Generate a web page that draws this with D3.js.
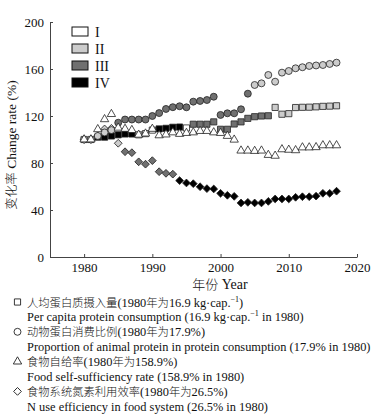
<!DOCTYPE html>
<html lang="zh">
<head>
<meta charset="UTF-8">
<title>变化率 Change rate</title>
<script src="https://d3js.org/d3.v7.min.js"></script>
<style>
    body { margin: 0; background: #fff; }
    svg text { font-family: "Liberation Serif", serif; fill: #111; }
    .axis path, .axis line { stroke: #444; }
</style>
</head>
<body>
<svg width="385" height="420"></svg>
<script>
    const years = [1980, 1981, 1982, 1983, 1984, 1985, 1986, 1987, 1988, 1989,
                   1990, 1991, 1992, 1993, 1994, 1995, 1996, 1997, 1998, 1999,
                   2000, 2001, 2002, 2003, 2004, 2005, 2006, 2007, 2008, 2009,
                   2010, 2011, 2012, 2013, 2014, 2015, 2016, 2017];

    // per capita protein consumption (squares)
    const proteinIntake = [100, 100, 102, 102, 103, 104, 104.7, 104.7, 104, 105,
                           108, 109, 109.5, 110.4, 110.6, 109.8, 113, 113, 113, 115,
                           108.7, 108.7, 113.2, 115, 118, 119.4, 120, 120.2, 127.3, 121.5,
                           122, 127.2, 127.4, 127.5, 127.8, 128.2, 128.4, 128.7];
    const proteinIntakePeriod = [1, 1, 4, 4, 4, 4, 4, 4, 1, 1,
                                 1, 4, 4, 4, 4, 1, 3, 3, 3, 3,
                                 3, 3, 3, 3, 3, 3, 3, 3, 2, 2,
                                 2, 2, 2, 2, 2, 2, 2, 2];

    // proportion of animal protein (circles)
    const animalShare = [100, 100, 103, 106, 108, 114.3, 117, 117, 117, 117,
                         120, 122.5, 126, 127.5, 128.3, 127.4, 132.2, 132.8, 133.6, 136.4,
                         120.9, 122.3, 122.3, 125.7, 139, 146.4, 147.8, 154.9, 149.2, 156.9,
                         158.3, 160.6, 161.5, 162.6, 163, 163.4, 164.3, 165.4];
    const animalSharePeriod = [1, 1, 2, 2, 2, 3, 3, 3, 3, 3,
                               3, 3, 3, 3, 3, 3, 3, 3, 3, 3,
                               3, 3, 3, 3, 3, 2, 2, 2, 2, 2,
                               2, 2, 2, 2, 2, 2, 2, 2];

    // food self-sufficiency rate (triangles)
    const selfSufficiency = [100, 100, 108.7, 117.2, 121.6, 110, 109, 108, 104, 105,
                             109, 103.5, 104.2, 106, 104.7, 105.5, 106, 107.2, 107.2, 106,
                             105.5, 103, 99.8, 90.5, 90.5, 90.2, 90.5, 86.8, 86.1, 91.6,
                             91.2, 90.8, 93.2, 93.2, 93.4, 95, 95, 95];
    const selfSufficiencyPeriod = years.map(() => 1);

    // N use efficiency in food system (diamonds)
    const nEfficiency = [100, 100, 103, 109, 109.5, 96.8, 89.6, 88.8, 81, 79,
                         82, 72.6, 71.2, 70.5, 65, 63, 62.4, 59.8, 58.2, 57.9,
                         54.2, 52.5, 51.6, 46, 46.5, 46, 46, 47.3, 49.4, 49.4,
                         49.4, 50.8, 51.3, 51.3, 51.8, 54.2, 54.2, 56];
    const nEfficiencyPeriod = [2, 2, 2, 2, 2, 2, 3, 3, 3, 3,
                               3, 3, 3, 3, 4, 4, 4, 4, 4, 4,
                               4, 4, 4, 4, 4, 4, 4, 4, 4, 4,
                               4, 4, 4, 4, 4, 4, 4, 4];

    const periodLabels = ["I", "II", "III", "IV"];
    const periodFill = { 1: "#ffffff", 2: "#cccccc", 3: "#707070", 4: "#000000" };

    const legendZh = ["人均蛋白质摄入量(1980年为16.9 kg·cap.^{−1})",
                      "动物蛋白消费比例(1980年为17.9%)",
                      "食物自给率(1980年为158.9%)",
                      "食物系统氮素利用效率(1980年为26.5%)"];
    const legendEn = ["Per capita protein consumption (16.9 kg·cap.^{−1} in 1980)",
                      "Proportion of animal protein in protein consumption (17.9% in 1980)",
                      "Food self-sufficiency rate (158.9% in 1980)",
                      "N use efficiency in food system (26.5% in 1980)"];

    const svg = d3.select("svg");

    // write mixed Chinese / Latin text: CJK runs in Noto Sans CJK, the rest in serif,
    // ^{..} becomes a superscript
    function mixedText(sel, str, latinSize, cjkSize) {
        let shift = 0;
        str.split(/(\^\{[^}]*\})/).forEach(chunk => {
            if (!chunk) return;
            const sup = chunk.match(/^\^\{([^}]*)\}$/);
            if (sup) {
                sel.append("tspan").attr("dy", -5)
                    .style("font-size", (latinSize * 0.65) + "px").text(sup[1]);
                shift = 5;
                return;
            }
            chunk.split(/([\u3000-\u9fff]+)/).forEach(p => {
                if (!p) return;
                const cjk = /[\u3000-\u9fff]/.test(p);
                const t = sel.append("tspan")
                    .style("font-family", cjk ? "'Noto Sans CJK SC'" : "'Liberation Serif'")
                    .style("font-size", (cjk ? cjkSize : latinSize) + "px")
                    .style("font-weight", cjk ? 300 : null)
                    .text(p);
                if (shift) { t.attr("dy", shift); shift = 0; }
            });
        });
    }

    const x = d3.scaleLinear().domain([1975, 2020]).range([50, 357]);
    const y = d3.scaleLinear().domain([0, 200]).range([257, 22]);

    // axes (ticks point inward)
    svg.append("g")
        .attr("class", "axis")
        .attr("transform", "translate(0,257)")
        .call(d3.axisBottom(x).tickValues([1980, 1990, 2000, 2010, 2020])
            .tickFormat(d3.format("d")).tickSizeInner(-3).tickSizeOuter(0).tickPadding(6))
        .attr("font-family", null).attr("font-size", null)
        .call(g => g.selectAll("text").style("font-size", "13px").attr("fill", "#111"));

    svg.append("g")
        .attr("class", "axis")
        .attr("transform", "translate(50,0)")
        .call(d3.axisLeft(y).tickValues([0, 40, 80, 120, 160, 200])
            .tickSizeInner(-3).tickSizeOuter(0).tickPadding(6))
        .attr("font-family", null).attr("font-size", null)
        .call(g => g.selectAll("text").style("font-size", "13px").attr("fill", "#111"));

    // axis titles
    const yTitle = svg.append("text")
        .attr("transform", "translate(16,145) rotate(-90)")
        .attr("text-anchor", "middle");
    mixedText(yTitle, "变化率 Change rate (%)", 13.5, 12.5);

    const xTitle = svg.append("text")
        .attr("x", 220).attr("y", 289)
        .attr("text-anchor", "middle");
    mixedText(xTitle, "年份 Year", 14, 13);

    // markers
    const symCircle = d3.symbol().type(d3.symbolCircle).size(38)();
    const symSquare = d3.symbol().type(d3.symbolSquare).size(38)();
    const symDiamond = d3.symbol().type(d3.symbolSquare).size(30)();
    const symTriangle = d3.symbol().type(d3.symbolTriangle).size(30)();

    const series = [
        { values: nEfficiency, period: nEfficiencyPeriod, path: symDiamond, rot: 45 },
        { values: proteinIntake, period: proteinIntakePeriod, path: symSquare, rot: 0 },
        { values: animalShare, period: animalSharePeriod, path: symCircle, rot: 0 },
        { values: selfSufficiency, period: selfSufficiencyPeriod, path: symTriangle, rot: 0 }
    ];

    series.forEach(s => {
        svg.append("g").selectAll("path")
            .data(years.map((yr, i) => ({ yr: yr, v: s.values[i], p: s.period[i] })))
            .join("path")
            .attr("d", s.path)
            .attr("transform", d => `translate(${x(d.yr)},${y(d.v)}) rotate(${s.rot})`)
            .attr("fill", d => periodFill[d.p])
            .attr("stroke", "#222")
            .attr("stroke-width", 0.8);
    });

    // period legend (top left)
    const pl = svg.append("g");
    periodLabels.forEach((lab, i) => {
        const cy = 31.5 + i * 17;
        pl.append("rect")
            .attr("x", 72).attr("y", cy - 4.5)
            .attr("width", 16).attr("height", 9)
            .attr("fill", periodFill[i + 1])
            .attr("stroke", "#111").attr("stroke-width", 1);
        pl.append("text")
            .attr("x", 95).attr("y", cy + 5)
            .style("font-size", "14px")
            .text(lab);
    });

    // indicator legend (bottom)
    const legendSyms = [[symSquare, 0], [symCircle, 0], [symTriangle, 0], [symDiamond, 45]];

    const lg = svg.append("g");
    legendZh.forEach((zh, i) => {
        const base = 306.5 + i * 29.8;
        lg.append("path")
            .attr("d", legendSyms[i][0])
            .attr("transform", `translate(17.5,${base - 4.5}) rotate(${legendSyms[i][1]})`)
            .attr("fill", "#fff")
            .attr("stroke", "#222")
            .attr("stroke-width", 0.9);

        mixedText(lg.append("text").attr("x", 27).attr("y", base), zh, 12.4, 11.3);
        mixedText(lg.append("text").attr("x", 27).attr("y", base + 14.9), legendEn[i], 12.4, 11.3);
    });
</script>
</body>
</html>
